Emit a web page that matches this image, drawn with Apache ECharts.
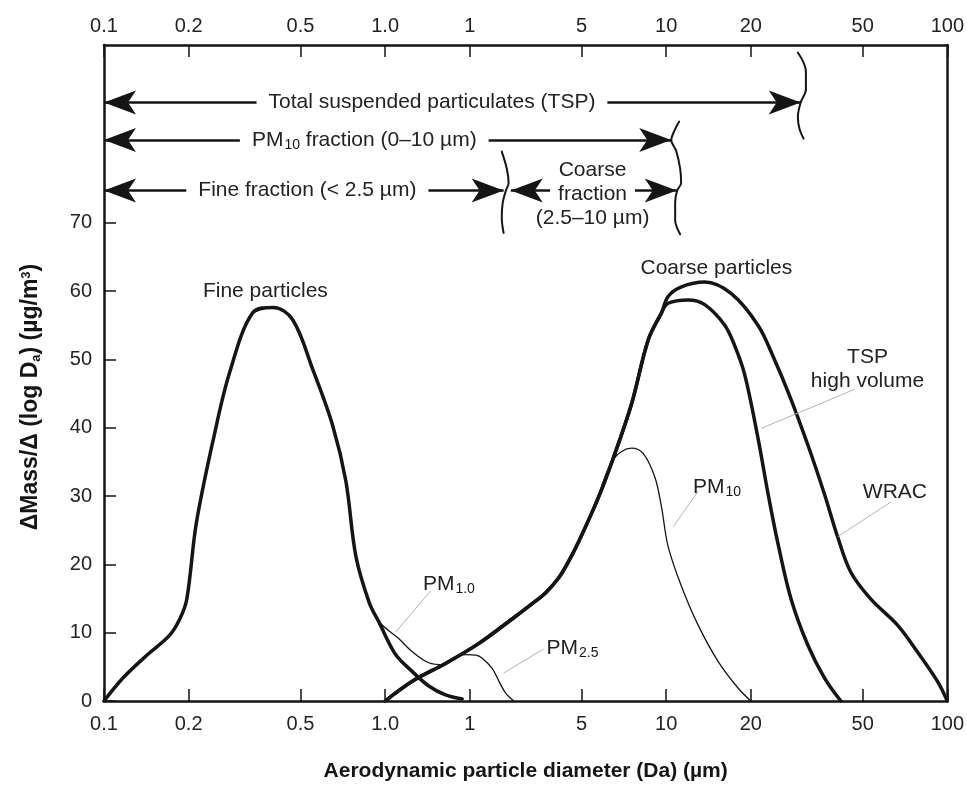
<!DOCTYPE html>
<html>
<head>
<meta charset="utf-8">
<title>Particle size distribution</title>
<script src="https://cdn.jsdelivr.net/npm/echarts@6/dist/echarts.min.js"></script>
<style>
  html, body { margin: 0; padding: 0; background: #fff; }
  #main { width: 967px; height: 787px; }
</style>
</head>
<body>
<div id="main"></div>
<script>
// log axis ticks and the text printed at them (the "1" sits at 2 um in the original)
var xTicks = [0.1, 0.2, 0.5, 1, 2, 5, 10, 20, 50, 100];
var xTickLabels = ['0.1', '0.2', '0.5', '1.0', '1', '5', '10', '20', '50', '100'];
var yTicks = [0, 10, 20, 30, 40, 50, 60, 70];

// curves: [diameter (um), dMass/dlogDa]
var fineParticles = [[0.1, 0], [0.117, 3.4], [0.142, 6.7], [0.171, 9.6], [0.186, 12], [0.197, 14.9],
  [0.213, 26], [0.244, 38], [0.28, 48.1], [0.338, 56.8], [0.40, 57.6], [0.469, 55.8], [0.552, 48.6],
  [0.65, 40.4], [0.725, 32.2], [0.787, 21.2], [0.878, 14.4], [0.952, 11.5], [1.09, 6.8], [1.25, 4.3],
  [1.43, 2.2], [1.64, 0.9], [1.88, 0.3]];
var pm1 = [[0.878, 14.4], [0.952, 11.6], [1.12, 9.1], [1.25, 7.2], [1.43, 5.6], [1.62, 5.3]];
var pm25 = [[1.62, 5.4], [1.93, 6.8], [2.10, 6.7], [2.21, 6.3], [2.40, 4.8], [2.54, 2.9], [2.68, 1.2], [2.87, 0]];
var coarseRise = [[1.0, 0], [1.25, 2.9], [1.64, 5.5], [2.15, 8.4], [2.83, 12], [3.4, 14.5], [3.72, 15.8],
  [4.14, 18], [4.49, 20.4], [4.88, 23.3], [5.74, 29.8], [6.49, 35.6], [7.53, 43.5], [8.64, 52.9], [9.62, 56.8]];
var tspFall = [[10.16, 58.2], [11.97, 58.7], [13.71, 58], [16.15, 55], [17.52, 52], [19.01, 47.8],
  [21.2, 38.5], [22.99, 30.5], [24.96, 23.1], [27.82, 14.9], [31.89, 8.2], [36.54, 3.4], [41.8, 0]];
var wracFall = [[10.16, 59.2], [11.33, 60.6], [13.71, 61.3], [17.05, 59.6], [21.2, 55], [23.96, 50.5],
  [27.46, 44.7], [31.89, 37.5], [36.54, 30.3], [40.74, 24], [45.42, 18.8], [53.46, 14.9], [66.5, 11.1],
  [78.26, 7.2], [92.16, 2.9], [100, 0]];
var pm10 = [[5.74, 29.8], [6.49, 35.4], [7.53, 37], [8.29, 36.2], [9.12, 32.7], [9.62, 28.4], [10.16, 22.6],
  [11.33, 16.8], [12.99, 11.1], [15.29, 5.8], [18.0, 1.9], [20, 0]];

// size-range arrows: [from, to, level]
var arrowRows = [[0.1, 30.1, 87.6], [0.1, 10.42, 82.1], [0.1, 2.64, 74.7], [2.80, 10.9, 74.7]];
var arrowTexts = [
  ['Total suspended particulates (TSP)', 1.468, 87.6],
  ['PM{sub|10} fraction (0\u201310 \u00b5m)', 0.843, 82.1],
  ['Fine fraction (< 2.5 \u00b5m)', 0.529, 74.7],
  ['Coarse\n{bg|fraction}\n(2.5\u201310 \u00b5m)', 5.47, 74.2]
];
// brace marks closing the arrows
var tspBrace = [[29.4, 94.9], [31.4, 92.1], [31.4, 89.5], [30.1, 87.6], [29.4, 85.5], [29.8, 83.7], [30.8, 82.3]];
var pm10Brace = [[11.12, 84.8], [10.68, 83.4], [10.42, 82.1], [10.85, 80.5], [11.21, 77.9], [11.30, 75.8],
  [10.94, 74.7], [10.76, 72.9], [10.76, 70.4], [11.21, 68.3]];
var fineBrace = [[2.60, 80.4], [2.71, 77.9], [2.75, 75.8], [2.69, 74.7], [2.62, 72.9], [2.60, 70.7], [2.64, 68.5]];

// curve names and their pointer lines
var curveTexts = [
  ['Fine particles', 0.375, 59.9],
  ['Coarse particles', 15.08, 63.4],
  ['TSP\nhigh volume', 52.0, 48.6],
  ['WRAC', 65.1, 30.5],
  ['PM{sub|10}', 15.17, 31.3],
  ['PM{sub|1.0}', 1.686, 17.1],
  ['PM{sub|2.5}', 4.64, 7.7]
];
var leaders = [
  [[1.452, 16.1], [1.091, 10.1]],
  [[3.66, 7.6], [2.642, 4.1]],
  [[12.99, 30.7], [10.59, 25.5]],
  [[46.7, 45.6], [21.78, 39.9]],
  [[62.9, 29.1], [40.74, 24.05]]
];

var FONT = "'Liberation Sans', Arial, Helvetica, sans-serif";
var INK = '#151515';
var HEAD = [18, 32];
var subStyle = { fontSize: 14, fontFamily: FONT, color: INK, verticalAlign: 'bottom', padding: [12, 0, 0, 1] };

function tickLabel(v) {
  for (var i = 0; i < xTicks.length; i++) {
    if (Math.abs(Math.log10(v) - Math.log10(xTicks[i])) < 1e-6) return xTickLabels[i];
  }
  return '';
}

function curve(name, data, width) {
  return {
    name: name, type: 'line', data: data, smooth: 0.35, symbol: 'none', silent: true,
    xAxisIndex: 0, yAxisIndex: 0,
    lineStyle: { color: INK, width: width, cap: 'round', join: 'round' }
  };
}

function xAxisBase(pos) {
  return {
    type: 'log', logBase: 10, min: 0.1, max: 100, position: pos,
    axisLine: { show: true, onZero: false, lineStyle: { color: INK, width: 2.5 } },
    axisTick: { show: true, inside: true, length: 12, customValues: xTicks, lineStyle: { color: INK, width: 1.5 } },
    axisLabel: { customValues: xTicks, formatter: tickLabel, margin: pos === 'top' ? 9 : 13,
      fontSize: 20, color: '#222', fontFamily: FONT },
    minorTick: { show: false }, splitLine: { show: false }
  };
}

var bottomAxis = xAxisBase('bottom');
bottomAxis.name = 'Aerodynamic particle diameter (Da) (\u00b5m)';
bottomAxis.nameLocation = 'middle';
bottomAxis.nameGap = 60;
bottomAxis.nameTextStyle = { fontSize: 21, fontWeight: 'bold', color: INK, fontFamily: FONT };

// arrow symbols put their tip on the end point
function arrowEnd(x, y) {
  return { coord: [x, y], symbol: 'arrow', symbolSize: HEAD };
}

var chart = echarts.init(document.getElementById('main'));

var option = {
  animation: false,
  backgroundColor: '#fff',
  grid: { left: 104, right: 15, top: 45, bottom: 77 },
  xAxis: [bottomAxis, xAxisBase('top')],
  yAxis: [{
    type: 'value', min: 0, max: 96, position: 'left',
    axisLine: { show: true, onZero: false, lineStyle: { color: INK, width: 2.5 } },
    axisTick: { show: true, inside: true, length: 12, customValues: yTicks, lineStyle: { color: INK, width: 1.5 } },
    axisLabel: { customValues: yTicks, margin: 12, fontSize: 20, color: '#222', fontFamily: FONT },
    splitLine: { show: false }
  }, {
    type: 'value', min: 0, max: 96, position: 'right',
    axisLine: { show: true, onZero: false, lineStyle: { color: INK, width: 2.5 } },
    axisTick: { show: false }, axisLabel: { show: false }, splitLine: { show: false }
  }],
  graphic: [{
    type: 'text', x: 31, y: 397, rotation: Math.PI / 2, silent: true,
    style: {
      text: '\u0394Mass/\u0394 (log D{s|a}) (\u00b5g/m{p|3})',
      fill: INK, fontSize: 23, fontWeight: 'bold', fontFamily: FONT,
      align: 'center', verticalAlign: 'middle',
      rich: {
        s: { fontSize: 13, fontWeight: 'bold', fontFamily: FONT, fill: INK, verticalAlign: 'bottom', padding: [9, 0, 0, 0] },
        p: { fontSize: 13, fontWeight: 'bold', fontFamily: FONT, fill: INK, verticalAlign: 'top' }
      }
    }
  }],
  series: [
    curve('Fine particles', fineParticles, 3.5),
    curve('PM1.0', pm1, 1.3),
    curve('PM2.5', pm25, 1.3),
    curve('PM10', pm10, 1.3),
    curve('TSP high volume', coarseRise.concat(tspFall), 3.5),
    curve('WRAC', coarseRise.concat(wracFall), 3.5),
    curve('brace TSP', tspBrace, 2),
    curve('brace PM10', pm10Brace, 2),
    curve('brace fine', fineBrace, 2),
    {
      name: 'arrows', type: 'line', data: [], silent: true,
      markLine: {
        silent: true, animation: false,
        symbol: ['arrow', 'arrow'],
        symbolSize: HEAD,
        itemStyle: { color: INK },
        lineStyle: { color: INK, width: 2.5, type: 'solid' },
        label: { show: false },
        data: arrowRows.map(function (r) { return [arrowEnd(r[0], r[2]), arrowEnd(r[1], r[2])]; })
      }
    },
    {
      name: 'leaders', type: 'line', data: [], silent: true,
      markLine: {
        silent: true, animation: false, symbol: ['none', 'none'],
        lineStyle: { color: '#b4b4b4', width: 1, type: 'solid' },
        label: { show: false },
        data: leaders.map(function (l) { return [{ coord: l[0] }, { coord: l[1] }]; })
      }
    },
    {
      name: 'texts', type: 'line', data: [], silent: true,
      markPoint: {
        silent: true, animation: false, z: 10,
        symbol: 'rect', symbolSize: 1, itemStyle: { color: 'rgba(0,0,0,0)' },
        label: {
          show: true, position: 'inside', color: '#222', fontSize: 21, fontFamily: FONT, lineHeight: 24,
          rich: { sub: subStyle, bg: { fontSize: 21, fontFamily: FONT, color: '#222', backgroundColor: '#fff', padding: [0, 8] } }
        },
        data: arrowTexts.map(function (t, i) {
          return {
            coord: [t[1], t[2]],
            label: { formatter: t[0], backgroundColor: i < 3 ? '#fff' : 'transparent', padding: i < 3 ? [0, 12] : 0 }
          };
        }).concat(curveTexts.map(function (t) {
          return { coord: [t[1], t[2]], label: { formatter: t[0], lineHeight: 24 } };
        }))
      }
    }
  ]
};

chart.setOption(option);
window.onresize = function () { chart.resize(); };
</script>
</body>
</html>
